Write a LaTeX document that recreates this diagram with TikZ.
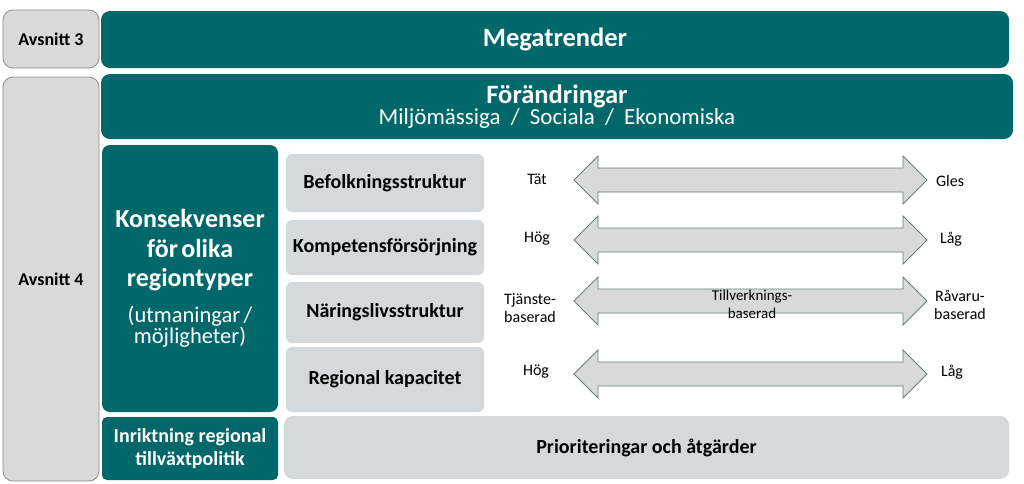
\documentclass[tikz,border=0pt]{standalone}
\usepackage{fontspec}
\setmainfont{Carlito}
\definecolor{regteal}{RGB}{0,104,106}
\definecolor{boxgray}{RGB}{213,217,219}
\definecolor{avsgray}{RGB}{217,217,217}
\definecolor{avsline}{RGB}{140,140,140}
\definecolor{arrline}{RGB}{105,125,125}
\tikzset{
  tealbox/.style={fill=regteal, text=white, rounded corners=9pt, inner sep=0pt},
  graybox/.style={fill=boxgray, rounded corners=6pt, inner sep=0pt, minimum width=198pt, font=\fontsize{20}{24}\selectfont\bfseries},
  avsbox/.style={fill=avsgray, draw=avsline, line width=0.8pt, rounded corners=10pt, inner sep=0pt, minimum width=96pt, font=\fontsize{18}{22}\selectfont\bfseries},
  arrowbody/.style={fill=avsgray, draw=arrline, line width=0.8pt},
  scalelabel/.style={align=center, inner sep=0pt, font=\fontsize{16}{18}\selectfont},
}
\begin{document}
\begin{tikzpicture}[x=1pt,y=-1pt]
\useasboundingbox (0,0) rectangle (1024,483);
% sections
\node[avsbox, minimum height=58pt] (avs3) at (51,39) {Avsnitt 3};
\node[avsbox, minimum height=404pt] (avs4) at (51,279) {Avsnitt 4};

% teal blocks
\node[tealbox, minimum width=908pt, minimum height=57pt, font=\fontsize{26.5}{30}\selectfont\bfseries] (mega) at (555,39.5) {Megatrender};
\node[tealbox, minimum width=912pt, minimum height=65pt, text width=900pt, align=center] (forand) at (557,106.5)
  {\fontsize{26.5}{30}\selectfont\bfseries Förändringar\par\fontsize{23}{29}\selectfont\mdseries Miljömässiga\hspace{0.3em} /\hspace{0.3em} Sociala\hspace{0.3em} /\hspace{0.3em} Ekonomiska};
\node[tealbox, rounded corners=8pt, minimum width=176pt, minimum height=267pt, text width=172pt, align=center] (konsek) at (190,278.5)
  {\fontsize{26}{29.5}\selectfont\bfseries Konsekvenser\\ för olika\\ regiontyper\par\vspace{10pt}\fontsize{22.5}{26}\selectfont\mdseries (utmaningar /\\ möjligheter)};
\node[tealbox, rounded corners=5pt, minimum width=176pt, minimum height=63pt, align=center, font=\fontsize{20}{23}\selectfont\bfseries] (inrikt) at (190,448.5) {Inriktning regional\\ tillväxtpolitik};

% gray factor boxes
\node[graybox, minimum height=58pt] (befolk) at (385,183) {Befolkningsstruktur};
\node[graybox, minimum height=55pt] (kompet) at (385,247.5) {Kompetensförsörjning};
\node[graybox, minimum height=61pt] (naring) at (385,312.5) {Näringslivsstruktur};
\node[graybox, minimum height=65pt] (regkap) at (385,379.5) {Regional kapacitet};
\node[graybox, rounded corners=9pt, minimum width=725pt, minimum height=63pt] (prio) at (646.5,447.5) {Prioriteringar och åtgärder};

% scale arrows
\foreach \yc in {180,240,301,374} {
  \draw[arrowbody] (574,\yc) -- (598,\yc-24) -- (598,\yc-12) -- (903,\yc-12) -- (903,\yc-24) -- (927,\yc)
    -- (903,\yc+24) -- (903,\yc+12) -- (598,\yc+12) -- (598,\yc+24) -- cycle;
}
\foreach \lx/\ly/\lo/\rx/\ry/\hi [count=\n] in {537/179/Tät/950/181/Gles, 537/239/Hög/951/239/Låg,
    530/308/{Tjänste-\\baserad}/960/305/{Råvaru-\\baserad}, 536/372/Hög/952/372/Låg} {
  \node[scalelabel] (lo\n) at (\lx,\ly) {\lo};
  \node[scalelabel] (hi\n) at (\rx,\ry) {\hi};
}
\node[scalelabel, font=\fontsize{15}{18}\selectfont] (mid3) at (752,304) {Tillverknings-\\baserad};
\end{tikzpicture}
\end{document}
